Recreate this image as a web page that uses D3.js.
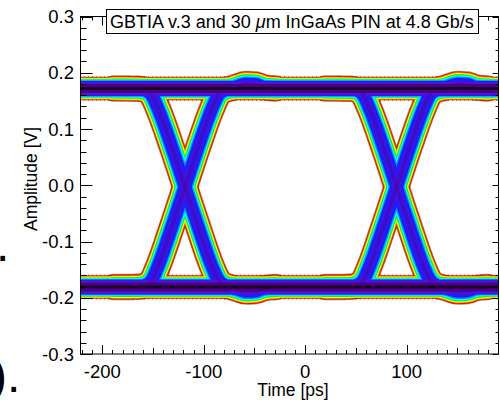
<!DOCTYPE html>
<html><head><meta charset="utf-8">
<script src="https://cdn.jsdelivr.net/npm/d3@7"></script>
<style>
html,body{margin:0;padding:0;background:#fff;}
svg{display:block;}
text{font-family:"Liberation Sans",Arial,Helvetica,sans-serif;fill:#000;}
</style>
</head><body>
<svg id="c" width="500" height="401"></svg>
<script>
// ---- data ----
const timeTicks = [-200, -100, 0, 100];
const ampTicks = [-0.3, -0.2, -0.1, 0.0, 0.1, 0.2, 0.3];
const crossingTimes = [-118.5, 90];          // ps, eye crossings
const highRail = [[-222, 0.172], [191, 0.172]];   // [ps, V]
const lowRail  = [[-222, -0.181], [191, -0.181]];
// transition traces, time relative to crossing [ps], amplitude [V]
const fallEdge = [[-70,0.172],[-45,0.1715],[-39,0.169],[-33,0.161],[-27,0.138],[-13,0.068],[0,-0.003],
                  [13,-0.074],[27,-0.146],[33,-0.169],[39,-0.178],[45,-0.181],[52,-0.185],[60,-0.189],
                  [70,-0.188],[78,-0.183],[90,-0.181]];
const riseEdge = [[-70,-0.181],[-45,-0.1805],[-39,-0.178],[-33,-0.170],[-27,-0.146],[-13,-0.074],[0,-0.003],
                  [13,0.068],[27,0.138],[33,0.161],[39,0.169],[45,0.172],[52,0.176],[60,0.180],
                  [70,0.179],[78,0.174],[90,0.172]];
const titleText = "GBTIA v.3 and 30 ";
const titleMu = "\u03bc";
const titleRest = "m InGaAs PIN at 4.8 Gb/s";

// ---- layout ----
const svg = d3.select("#c");
const x = d3.scaleLinear().domain([-222, 191]).range([80, 499]);
const y = d3.scaleLinear().domain([-0.3, 0.3]).range([354, 16.5]);

// density contour layers (outer -> inner)
const layers = [
  {c:"#000000", rail:25,   edge:26.5, op:0.45, dash:"1 3"},
  {c:"#ff0000", rail:23.5, edge:25},
  {c:"#ff8c00", rail:22,   edge:23.3},
  {c:"#ffff00", rail:20.8, edge:21.8},
  {c:"#00ff00", rail:19.3, edge:19.8},
  {c:"#00ffff", rail:17.8, edge:17.5},
  {c:"#0090ff", rail:16.3, edge:15},
  {c:"#1c1cff", rail:14.8, edge:12.5},
  {c:"#5a10d0", rail:13,   edge:8, eop:0.45},
  {c:"#48008c", rail:9,    edge:4, eop:0.35},
  {c:"#1c0020", rail:3,    edge:0}
];

svg.append("defs").append("clipPath").attr("id","plotclip")
  .append("rect").attr("x",80).attr("y",16.5).attr("width",419).attr("height",337.5);

const line = d3.line().x(d=>x(d[0])).y(d=>y(d[1])).curve(d3.curveMonotoneX);
const rails = [highRail, lowRail];
const edges = [];
crossingTimes.forEach(c=>{
  edges.push(fallEdge.map(p=>[p[0]+c, p[1]]));
  edges.push(riseEdge.map(p=>[p[0]+c, p[1]]));
});

const g = svg.append("g").attr("clip-path","url(#plotclip)");
layers.forEach(L=>{
  if (L.edge > 0) {
    g.selectAll(null).data(edges).enter().append("path")
      .attr("d", line).attr("fill","none").attr("stroke",L.c)
      .attr("stroke-width",L.edge).attr("stroke-linejoin","round").attr("stroke-linecap","round")
      .attr("stroke-opacity", L.eop!=null?L.eop:(L.op!=null?L.op:1))
      .attr("stroke-dasharray", L.dash||null);
  }
  g.selectAll(null).data(rails).enter().append("path")
    .attr("d", line).attr("fill","none").attr("stroke",L.c)
    .attr("stroke-width",L.rail).attr("stroke-linecap","butt")
    .attr("stroke-opacity", L.op!=null?L.op:1)
    .attr("stroke-dasharray", L.dash||null);
});

// ---- axes ----
const ax = svg.append("g").attr("stroke","#000").attr("stroke-width",1).attr("fill","none");
ax.append("rect").attr("x",80.5).attr("y",16.5).attr("width",418).attr("height",337.5);
const xMinor = d3.range(-220, 191, 10);
xMinor.forEach(t=>{
  const len = t%100===0 ? 9 : (t%50===0 ? 6 : 4);
  const px = Math.round(x(t))+0.5;
  ax.append("line").attr("x1",px).attr("x2",px).attr("y1",354).attr("y2",354-len);
  ax.append("line").attr("x1",px).attr("x2",px).attr("y1",16.5).attr("y2",16.5+len);
});
const yMinor = d3.range(-30, 31, 2);
yMinor.forEach(k=>{
  const major = k%10===0;
  const py = Math.round(y(k/100))+0.5;
  ax.append("line").attr("x1",80.5).attr("x2",80.5+(major?12:6)).attr("y1",py).attr("y2",py);
  ax.append("line").attr("x1",498.5).attr("x2",498.5-(major?6:3)).attr("y1",py).attr("y2",py);
});

const fmtA = v => d3.format(".1f")(v).replace("\u2212","-");
svg.append("g").selectAll("text").data(ampTicks).enter().append("text")
  .attr("x",74).attr("y",d=>y(d)).attr("dy","0.36em").attr("text-anchor","end")
  .attr("font-size",18.5).text(fmtA);
svg.append("g").selectAll("text").data(timeTicks).enter().append("text")
  .attr("x",d=>x(d)).attr("y",378).attr("text-anchor","middle")
  .attr("font-size",18.5).text(d=>String(d).replace("\u2212","-"));

svg.append("text").attr("x",293).attr("y",396).attr("text-anchor","middle")
  .attr("font-size",17.5).text("Time [ps]");
svg.append("text").attr("transform","translate(37,179) rotate(-90)").attr("text-anchor","middle")
  .attr("font-size",17.5).text("Amplitude [V]");

// title box
svg.append("rect").attr("x",106.5).attr("y",9.5).attr("width",372).attr("height",24)
  .attr("fill","#fff").attr("stroke","#000").attr("stroke-width",1);
const tt = svg.append("text").attr("x",110).attr("y",27.5).attr("font-size",18);
tt.append("tspan").text(titleText);
tt.append("tspan").attr("font-style","italic").text(titleMu);
tt.append("tspan").text(titleRest);

// stray fragments of neighbouring text at left margin
svg.append("text").attr("x",-4).attr("y",261).attr("font-size",48).text(".");
svg.append("text").attr("x",-9).attr("y",392).attr("font-size",48).text(").");
</script>
</body></html>
